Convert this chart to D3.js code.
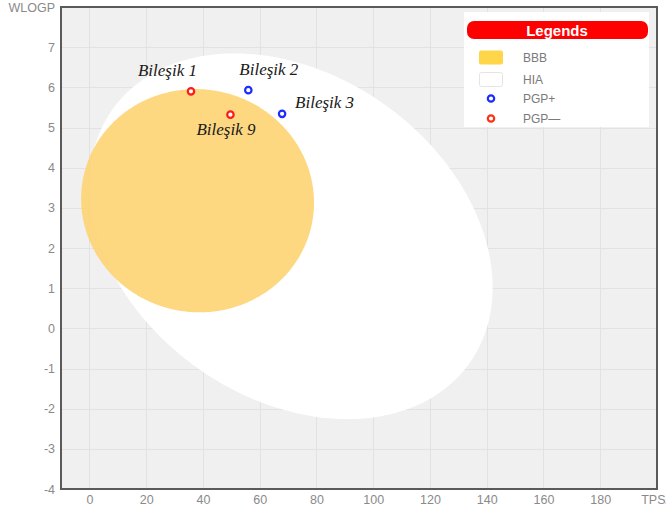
<!DOCTYPE html>
<html>
<head>
<meta charset="utf-8">
<script src="https://cdn.jsdelivr.net/npm/d3@7/dist/d3.min.js"></script>
<style>
  html, body { margin: 0; padding: 0; background: #ffffff; }
  svg { display: block; }
</style>
</head>
<body>
<svg id="chart" width="666" height="508"></svg>
<script>
// BOILED-Egg plot: TPSA vs WLOGP with HIA (white) and BBB (yolk) regions

// Compounds
const compoundNames = ["Bileşik 1", "Bileşik 2", "Bileşik 3", "Bileşik 9"];
const compoundTPSA  = [35.8, 56.0, 67.9, 49.7];
const compoundWLOGP = [5.90, 5.93, 5.34, 5.32];
const compoundPGP   = ["PGP-", "PGP+", "PGP+", "PGP-"];

// Egg regions: centre (TPSA, WLOGP), full axes, rotation in degrees
const hiaEllipse = { cx: 71.051, cy: 2.292, ax: 142.081, ay: 8.740, angle: -1.031 };
const bbbEllipse = { cx: 38.117, cy: 3.177, ax: 82.061, ay: 5.557, angle: -0.066 };

// Axis ticks
const xTicks = [0, 20, 40, 60, 80, 100, 120, 140, 160, 180];
const yTicks = [-4, -3, -2, -1, 0, 1, 2, 3, 4, 5, 6, 7];
const xTitle = "TPSA";
const yTitle = "WLOGP";

// Legend entries
const legendLabels = ["BBB", "HIA", "PGP+", "PGP—"];

// Label placement relative to each marker (pixels)
const labelOffsets = [[-53, -15], [-9, -15], [13, -6], [-34, 20]];

const svg = d3.select("#chart");
const plotLeft = 61, plotRight = 657, plotTop = 7, plotBottom = 489;

const x = d3.scaleLinear().domain([-10, 200]).range([plotLeft, plotRight]);
const y = d3.scaleLinear().domain([-4, 8]).range([plotBottom, plotTop]);

// Plot background
svg.append("rect")
  .attr("x", plotLeft).attr("y", plotTop)
  .attr("width", plotRight - plotLeft).attr("height", plotBottom - plotTop)
  .attr("fill", "#f0f0f0");

// Grid
const grid = svg.append("g").attr("stroke", "#e2e2e2").attr("stroke-width", 1);
grid.selectAll("line.v").data(xTicks).join("line")
  .attr("x1", d => Math.round(x(d)) + 0.5).attr("x2", d => Math.round(x(d)) + 0.5)
  .attr("y1", plotTop).attr("y2", plotBottom);
grid.selectAll("line.h").data(yTicks.filter(d => d > -4)).join("line")
  .attr("y1", d => Math.round(y(d)) + 0.5).attr("y2", d => Math.round(y(d)) + 0.5)
  .attr("x1", plotLeft).attr("x2", plotRight);

// Ellipse outline in data space, mapped through the scales
function ellipsePoints(e) {
  const th = e.angle * Math.PI / 180;
  const a = e.ax / 2, b = e.ay / 2;
  return d3.range(0, 360, 1).map(deg => {
    const t = deg * Math.PI / 180;
    const u = a * Math.cos(t), v = b * Math.sin(t);
    return [e.cx + u * Math.cos(th) - v * Math.sin(th),
            e.cy + u * Math.sin(th) + v * Math.cos(th)];
  });
}
const eggLine = d3.line().x(d => x(d[0])).y(d => y(d[1])).curve(d3.curveLinearClosed);

const plot = svg.append("g");
plot.append("path")
  .attr("d", eggLine(ellipsePoints(hiaEllipse)))
  .attr("fill", "#ffffff");
plot.append("path")
  .attr("d", eggLine(ellipsePoints(bbbEllipse)))
  .attr("fill", "#fdd473")
  .attr("fill-opacity", 0.9);

// Compound markers
const pgpColor = { "PGP+": "#1a2cff", "PGP-": "#ff1a1a" };
const pts = compoundNames.map((n, i) => ({
  name: n, tx: compoundTPSA[i], wy: compoundWLOGP[i], pgp: compoundPGP[i], off: labelOffsets[i]
}));
plot.selectAll("circle.pt").data(pts).join("circle")
  .attr("cx", d => x(d.tx)).attr("cy", d => y(d.wy)).attr("r", 3.2)
  .attr("fill", "#ffffff")
  .attr("stroke", d => pgpColor[d.pgp]).attr("stroke-width", 2.2);

plot.selectAll("text.lbl").data(pts).join("text")
  .attr("x", d => x(d.tx) + d.off[0]).attr("y", d => y(d.wy) + d.off[1])
  .attr("font-family", "'Liberation Serif', 'Times New Roman', serif")
  .attr("font-style", "italic").attr("font-size", 17).attr("fill", "#1a1a1a")
  .text(d => d.name);

// Frame
svg.append("rect")
  .attr("x", plotLeft).attr("y", plotTop)
  .attr("width", plotRight - plotLeft).attr("height", plotBottom - plotTop)
  .attr("fill", "none").attr("stroke", "#5a5a5a").attr("stroke-width", 2);

// Axis labels
const axisFont = "'Liberation Sans', Arial, sans-serif";
const xAxis = d3.axisBottom(x).tickValues(xTicks.concat([200]))
  .tickFormat(d => d === 200 ? xTitle : d).tickSize(0).tickPadding(6);
const gx = svg.append("g").attr("transform", `translate(0,${plotBottom})`).call(xAxis);
gx.select(".domain").remove();
gx.selectAll("text").attr("font-family", axisFont).attr("font-size", 12.5).attr("fill", "#8a8a8a");

const yAxis = d3.axisLeft(y).tickValues(yTicks.concat([8]))
  .tickFormat(d => d === 8 ? yTitle : d).tickSize(0).tickPadding(6);
const gy = svg.append("g").attr("transform", `translate(${plotLeft},0)`).call(yAxis);
gy.select(".domain").remove();
gy.selectAll("text").attr("font-family", axisFont).attr("font-size", 12.5).attr("fill", "#8a8a8a");

// Legend
const lg = svg.append("g").attr("transform", "translate(464,12)");
lg.append("rect").attr("width", 185).attr("height", 115).attr("fill", "#ffffff");
lg.append("rect").attr("x", 3).attr("y", 9).attr("width", 181).attr("height", 18)
  .attr("rx", 7).attr("fill", "#ff0000");
lg.append("text").attr("x", 93).attr("y", 23.5).attr("text-anchor", "middle")
  .attr("font-family", axisFont).attr("font-weight", "bold").attr("font-size", 15)
  .attr("fill", "#ffffff").text("Legends");

const rowY = [45.5, 67.5, 86.5, 106.5];
lg.append("rect").attr("x", 15).attr("y", rowY[0] - 7).attr("width", 24).attr("height", 14)
  .attr("rx", 2).attr("fill", "#ffd54a");
lg.append("rect").attr("x", 15.5).attr("y", rowY[1] - 7).attr("width", 23).attr("height", 14)
  .attr("rx", 2).attr("fill", "#ffffff").attr("stroke", "#e4e4e4");
lg.append("circle").attr("cx", 27).attr("cy", rowY[2]).attr("r", 3.2)
  .attr("fill", "#fff").attr("stroke", "#1a2cff").attr("stroke-width", 2.2);
lg.append("circle").attr("cx", 27).attr("cy", rowY[3]).attr("r", 3.2)
  .attr("fill", "#fff").attr("stroke", "#ff3010").attr("stroke-width", 2.2);
lg.selectAll("text.item").data(legendLabels).join("text")
  .attr("x", 59).attr("y", (d, i) => rowY[i]).attr("dy", "0.35em")
  .attr("font-family", axisFont).attr("font-size", 12).attr("fill", "#7a7a7a")
  .text(d => d);
</script>
</body>
</html>
